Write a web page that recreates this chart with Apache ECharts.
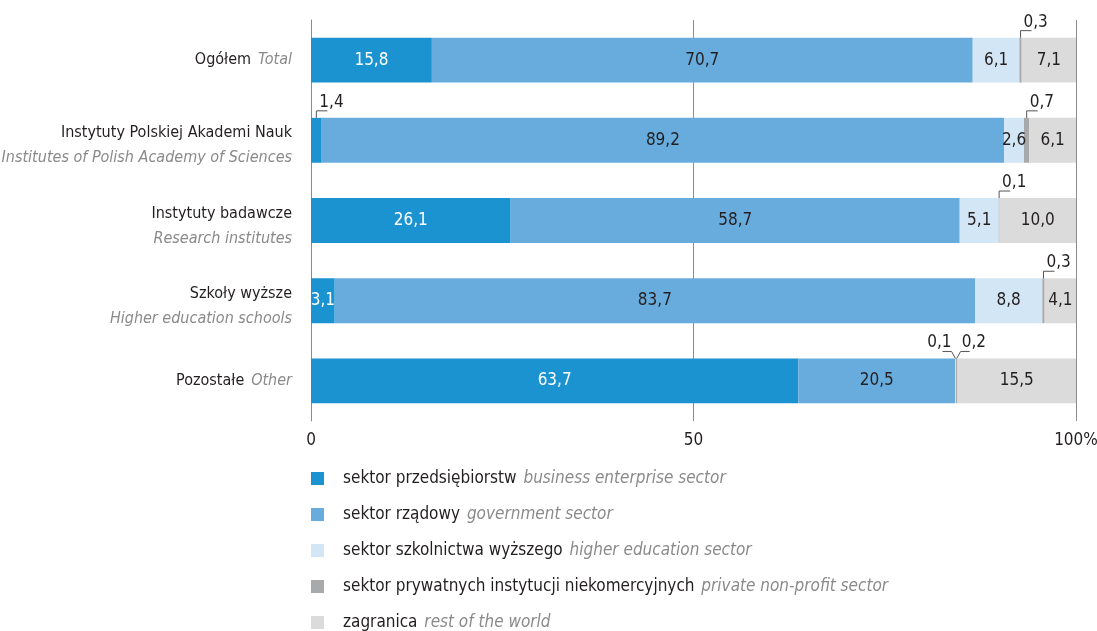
<!DOCTYPE html>
<html>
<head>
<meta charset="utf-8">
<script src="https://cdn.jsdelivr.net/npm/echarts@6/dist/echarts.min.js"></script>
<style>
  html, body { margin: 0; padding: 0; background: #fff; }
  #chart { width: 1097px; height: 631px; }
</style>
</head>
<body>
<div id="chart"></div>
<script>
var FONT = '"Liberation Sans Narrow", "DejaVu Sans Condensed", sans-serif'

// categories (Polish / English)
var categoriesPl = ['Ogółem', 'Instytuty Polskiej Akademi Nauk', 'Instytuty badawcze', 'Szkoły wyższe', 'Pozostałe']
var categoriesEn = ['Total', 'Institutes of Polish Academy of Sciences', 'Research institutes', 'Higher education schools', 'Other']

// series names
var seriesPl = ['sektor przedsiębiorstw', 'sektor rządowy', 'sektor szkolnictwa wyższego', 'sektor prywatnych instytucji niekomercyjnych', 'zagranica']
var seriesEn = ['business enterprise sector', 'government sector', 'higher education sector', 'private non-profit sector', 'rest of the world']
var colors = ['#1b93d1', '#67acdd', '#d3e6f5', '#a8a9ab', '#dbdbdb']

// values, %
var business = [15.8, 1.4, 26.1, 3.1, 63.7]
var government = [70.7, 89.2, 58.7, 83.7, 20.5]
var higherEdu = [6.1, 2.6, 5.1, 8.8, 0.1]
var nonProfit = [0.3, 0.7, 0.1, 0.3, 0.2]
var abroad = [7.1, 6.1, 10.0, 4.1, 15.5]

var xTicks = [0, 50, 100]

var values = [business, government, higherEdu, nonProfit, abroad]
var SMALL = 2
var BAR = 0.56

function fmt(v) {
  return v.toFixed(1).replace('.', ',')
}

// small segments get a callout above the bar
var callouts = []
categoriesPl.forEach(function (c, ci) {
  var start = 0
  values.forEach(function (arr, si) {
    var v = arr[ci]
    if (v < SMALL) {
      var nextSmall = si < values.length - 1 && values[si + 1][ci] < SMALL
      var prevSmall = si > 0 && values[si - 1][ci] < SMALL
      callouts.push({
        value: [start + v / 2, ci],
        text: fmt(v),
        side: nextSmall ? 2 : prevSmall ? 1 : 0
      })
    }
    start += v
  })
})

var series = values.map(function (arr, i) {
  return {
    name: seriesPl[i],
    type: 'bar',
    stack: 'total',
    barWidth: BAR * 100 + '%',
    itemStyle: { color: colors[i] },
    label: {
      show: true,
      position: 'inside',
      color: i === 0 ? '#fff' : '#231f20',
      fontFamily: FONT,
      fontSize: 17,
      formatter: function (p) {
        return p.value < SMALL ? '' : fmt(p.value)
      }
    },
    emphasis: { disabled: true },
    data: arr
  }
})

series.push({
  type: 'custom',
  silent: true,
  z: 5,
  data: callouts.map(function (c) { return c.value }),
  renderItem: function (params, api) {
    var c = callouts[params.dataIndex]
    var p = api.coord(c.value)
    var top = p[1] - api.size([0, 1])[1] * BAR / 2
    var x = p[0]
    var pts, tx, align
    if (c.side === 0) {
      pts = [[x, top], [x, top - 7], [x + 11, top - 7]]
      tx = x + 3
      align = 'left'
    } else if (c.side === 1) {
      pts = [[x, top], [x + 4, top - 7], [x + 13, top - 7]]
      tx = x + 5
      align = 'left'
    } else {
      pts = [[x, top], [x - 4, top - 7], [x - 13, top - 7]]
      tx = x - 4
      align = 'right'
    }
    return {
      type: 'group',
      children: [
        { type: 'polyline', shape: { points: pts }, style: { stroke: '#555', fill: null, lineWidth: 1 } },
        {
          type: 'text',
          style: {
            x: tx, y: top - 7, text: c.text, fill: '#231f20',
            font: '17px ' + FONT, align: align, verticalAlign: 'bottom'
          }
        }
      ]
    }
  }
})

// two-line labels sit a little lower than the bar centre
var yData = categoriesPl.map(function (name, i) {
  if (i === 0 || i === 4) return name
  return { value: name, textStyle: { padding: [11, 0, 0, 0] } }
})

var chart = echarts.init(document.getElementById('chart'))
chart.setOption({
  animation: false,
  textStyle: { fontFamily: FONT },
  grid: { left: 311, right: 21, top: 20, bottom: 210, outerBoundsMode: 'none' },
  legend: {
    orient: 'vertical',
    left: 311,
    top: 470,
    padding: 0,
    itemWidth: 13,
    itemHeight: 13,
    itemGap: 19,
    icon: 'rect',
    selectedMode: false,
    data: seriesPl,
    formatter: function (name) {
      return '{pl|' + name + '}  {en|' + seriesEn[seriesPl.indexOf(name)] + '}'
    },
    textStyle: {
      padding: [0, 0, 0, 14],
      rich: {
        pl: { fontFamily: FONT, fontSize: 17, color: '#231f20' },
        en: { fontFamily: FONT, fontSize: 17, color: '#8a8a8a', fontStyle: 'italic' }
      }
    }
  },
  xAxis: {
    type: 'value',
    min: 0,
    max: 100,
    interval: 50,
    axisLine: { show: false },
    axisTick: { show: false },
    splitLine: { lineStyle: { color: '#8c8c8c', width: 1 } },
    axisLabel: {
      margin: 11,
      color: '#231f20',
      fontFamily: FONT,
      fontSize: 17,
      customValues: xTicks,
      formatter: function (v) { return v === 100 ? '100%' : String(v) }
    }
  },
  yAxis: {
    type: 'category',
    inverse: true,
    data: yData,
    axisLine: { lineStyle: { color: '#8c8c8c' } },
    axisTick: { show: false },
    axisLabel: {
      margin: 19,
      align: 'right',
      formatter: function (v, i) {
        if (i === 0 || i === 4) return '{pl|' + v + '}  {en|' + categoriesEn[i] + '}'
        return '{pl|' + v + '}\n{en|' + categoriesEn[i] + '}'
      },
      rich: {
        pl: { fontFamily: FONT, fontSize: 16, color: '#231f20', lineHeight: 25, align: 'right' },
        en: { fontFamily: FONT, fontSize: 16, color: '#8a8a8a', fontStyle: 'italic', lineHeight: 25, align: 'right' }
      }
    }
  },
  series: series
})
</script>
</body>
</html>
